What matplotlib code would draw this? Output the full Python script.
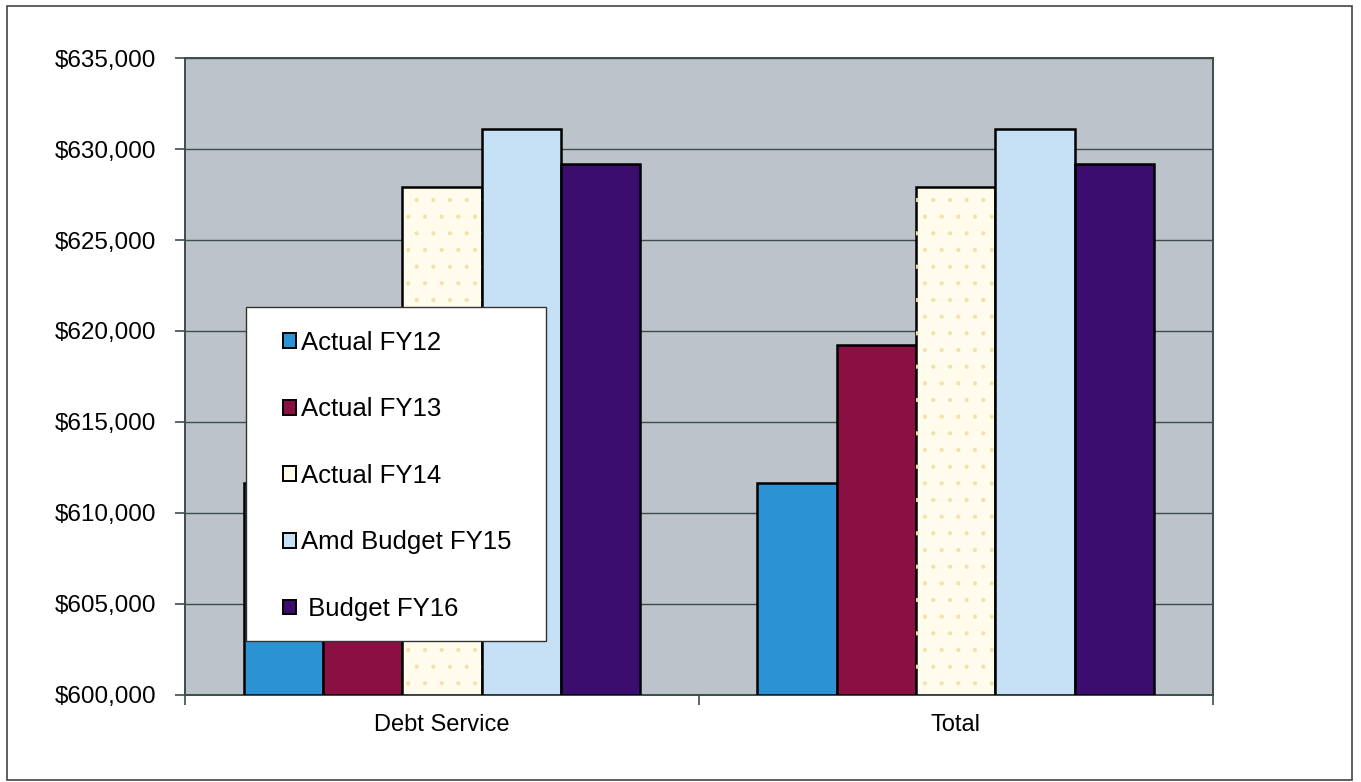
import matplotlib
matplotlib.use('Agg')
import matplotlib.pyplot as plt
from matplotlib.patches import Rectangle
from matplotlib.ticker import FuncFormatter, FixedLocator
import numpy as np

categories = ['Debt Service', 'Total']
series = ['Actual FY12', 'Actual FY13', 'Actual FY14', 'Amd Budget FY15', ' Budget FY16']
actual_fy12 = [611650, 611650]
actual_fy13 = [619250, 619250]
actual_fy14 = [627900, 627900]
amd_budget_fy15 = [631100, 631100]
budget_fy16 = [629200, 629200]

colors = ['#2b93d4', '#8a1044', '#fffcee', '#c6e1f6', '#3a0d6e']

plt.rcParams['font.family'] = ['Liberation Sans', 'DejaVu Sans']

fig = plt.figure(figsize=(13.61, 7.82), dpi=100)
ax = fig.add_axes([0.136, 0.1113, 0.755, 0.8145])
ax.set_facecolor('#bcc3cb')

x = np.arange(len(categories))
width = 0.1545
base = 600000
values = [actual_fy12, actual_fy13, actual_fy14, amd_budget_fy15, budget_fy16]
for i, (name, vals) in enumerate(zip(series, values)):
    heights = np.array(vals) - base
    ax.bar(x + (i - 2) * width, heights, width, bottom=base, color=colors[i],
           edgecolor='black', linewidth=1.8, label=name, zorder=3)
    if i == 2:
        # faint dotted fill on the FY14 bars
        plt.rcParams['hatch.linewidth'] = 0.6
        ax.bar(x + (i - 2) * width, heights, width, bottom=base, fill=False,
               edgecolor='#f0e2a8', linewidth=0, hatch='.', zorder=3)

ax.set_xlim(-0.5, 1.5)
ax.set_ylim(600000, 635000)
ax.set_yticks(np.arange(600000, 635001, 5000))
ax.yaxis.set_major_formatter(FuncFormatter(lambda v, p: '${:,.0f}'.format(v)))
ax.grid(axis='y', color='#3e4c4c', linewidth=1.0, zorder=1)
ax.set_axisbelow(True)

ax.set_xticks(x)
ax.set_xticklabels(categories)
ax.xaxis.set_minor_locator(FixedLocator([-0.5, 0.5, 1.5]))
ax.tick_params(axis='x', which='major', length=0, pad=14, labelsize=17)
ax.tick_params(axis='x', which='minor', length=7, width=1.2, color='#3e4c4c')
ax.tick_params(axis='y', length=7, width=1.2, color='#3e4c4c', pad=14, labelsize=17.5)

for s in ax.spines.values():
    s.set_color('#3e4c4c')
    s.set_linewidth(1.4)

# legend box
ax.add_patch(Rectangle((0.0593, 0.0852), 0.2918, 0.5244, transform=ax.transAxes,
                       facecolor='white', edgecolor='#333333', linewidth=1.0, zorder=5))
leg = ax.legend(loc='upper left', bbox_to_anchor=(0.07, 0.612), frameon=False,
                fontsize=18.5, handlelength=0.5, handleheight=0.5, handletextpad=0.2,
                labelspacing=1.655, borderpad=0.5)
leg.set_zorder(6)
for h in leg.legend_handles:
    h.set_linewidth(1.4)

# outer frame
fig.patches.append(Rectangle((7 / 1361, 2 / 782), 1345 / 1361, 774 / 782,
                             transform=fig.transFigure, fill=False,
                             edgecolor='#444444', linewidth=1.2))

fig.savefig('out.png', dpi=100)
